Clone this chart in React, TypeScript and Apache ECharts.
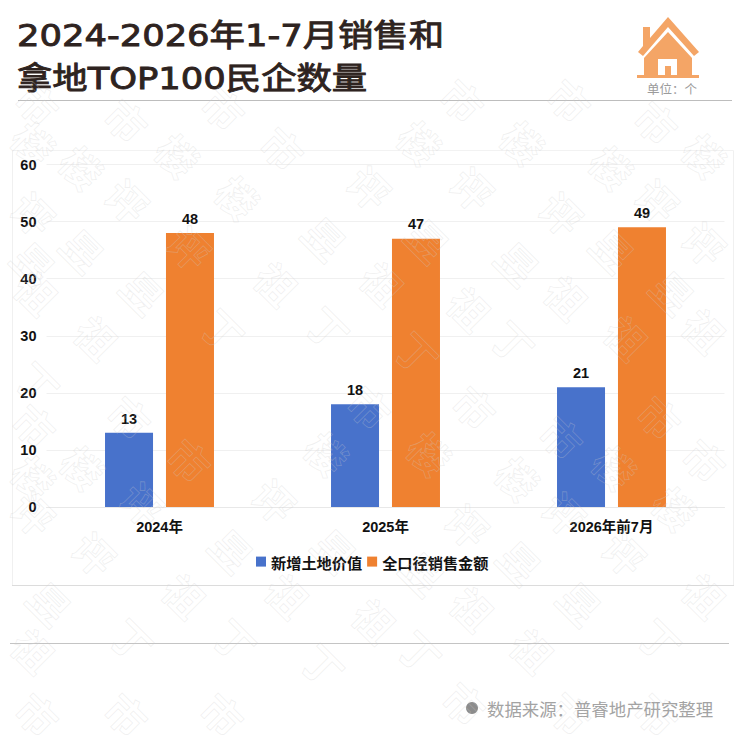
import React, { useEffect, useRef } from "react";
import * as echarts from "echarts";

const categories = ["2024年", "2025年", "2026年前7月"];
const newLandValue = [13, 18, 21];
const fullSales = [48, 47, 49];
const seriesNames = ["新增土地价值", "全口径销售金额"];
const yTicks = { min: 0, max: 60, interval: 10 };
const titleText = "2024-2026年1-7月销售和\n拿地TOP100民企数量";
const unitText = "单位：个";
const sourceText = "数据来源：普睿地产研究整理";

const watermarks: [string, number, number][] = [
  ["市", 38, 103], ["市", 127, 120], ["市", 224, 108], ["市", 283, 148], ["市", 463, 100], ["市", 570, 100], ["市", 657, 122],
  ["市", 35, 425], ["市", 130, 417], ["市", 190, 460], ["市", 370, 407], ["市", 475, 407], ["市", 562, 437], ["市", 660, 417], ["市", 705, 460],
  ["市", 38, 714], ["市", 127, 714], ["市", 223, 714], ["市", 465, 703], ["市", 570, 713], ["市", 657, 714],
  ["楼", 34, 143], ["楼", 82, 167], ["楼", 178, 155], ["楼", 238, 197], ["楼", 420, 142], ["楼", 523, 142], ["楼", 612, 167], ["楼", 705, 155],
  ["楼", 34, 477], ["楼", 83, 467], ["楼", 327, 453], ["楼", 430, 453], ["楼", 518, 478], ["楼", 615, 467], ["楼", 675, 508],
  ["评", 34, 213], ["评", 128, 200], ["评", 190, 247], ["评", 370, 187], ["评", 473, 188], ["评", 562, 213], ["评", 658, 200], ["评", 705, 243],
  ["评", 34, 513], ["评", 143, 503], ["评", 95, 553], ["评", 275, 500], ["评", 468, 525], ["评", 565, 513], ["评", 625, 553],
  ["昱", 34, 263], ["昱", 83, 250], ["昱", 143, 292], ["昱", 325, 238], ["昱", 428, 240], ["昱", 518, 263], ["昱", 613, 250], ["昱", 673, 292],
  ["昱", 50, 603], ["昱", 232, 550], ["昱", 335, 550], ["昱", 423, 573], ["昱", 520, 562], ["昱", 580, 603],
  ["祖", 37, 292], ["祖", 97, 337], ["祖", 277, 283], ["祖", 383, 283], ["祖", 470, 308], ["祖", 567, 297], ["祖", 627, 337], ["祖", 705, 330],
  ["祖", 34, 650], ["祖", 185, 595], ["祖", 288, 595], ["祖", 375, 620], ["祖", 473, 608], ["祖", 533, 650], ["祖", 705, 595],
  ["丁", 223, 330], ["丁", 328, 328], ["丁", 38, 383], ["丁", 417, 353], ["丁", 513, 342],
  ["丁", 132, 640], ["丁", 235, 640], ["丁", 323, 665], ["丁", 420, 652], ["丁", 660, 640],
];

const ROOF =
  "M668 17 L699 52 L694 56 L668 27 L643 56 L638 52 L643 46 L643 27 L650 27 L650 38 Z";
const BODY =
  "M668 32 L692 58 L692 75 L699 75 L699 78 L637 78 L637 75 L644 75 L644 58 Z";

echarts.graphic.registerShape("houseRoof", echarts.graphic.extendPath(ROOF, {}));
echarts.graphic.registerShape("houseBody", echarts.graphic.extendPath(BODY, {}));

const LATIN = '"Liberation Sans", "Noto Sans CJK SC", sans-serif';
const CJK = '"Noto Sans CJK SC", sans-serif';
const TITLE_FONT = '"DejaVu Sans", "Noto Sans CJK SC", sans-serif';

export default function App() {
  const ref = useRef<HTMLDivElement>(null);
  useEffect(() => {
    const chart = echarts.init(ref.current!, undefined, { renderer: "svg" });
    const labelStyle = { color: "#111", fontFamily: LATIN, fontWeight: "bold" as const, fontSize: 14.5 };
    chart.setOption({
      animation: false,
      backgroundColor: "#fff",
      grid: { left: 46.5, right: 15.5, top: 164.5, bottom: 242 },
      legend: {
        top: 549,
        left: 251,
        itemWidth: 10,
        itemHeight: 10,
        itemGap: 5,
        icon: "rect",
        textStyle: { fontFamily: CJK, fontWeight: "bold", fontSize: 15.2, color: "#111" },
        data: seriesNames,
      },
      xAxis: {
        type: "category",
        data: categories,
        axisTick: { show: false },
        axisLine: { lineStyle: { color: "#e8e8e8" } },
        axisLabel: { ...labelStyle, margin: 13 },
      },
      yAxis: {
        type: "value",
        ...yTicks,
        axisLabel: { ...labelStyle, margin: 10 },
        splitLine: { lineStyle: { color: "#f0f0f0" } },
        axisLine: { show: false },
        axisTick: { show: false },
      },
      series: [
        {
          name: seriesNames[0],
          type: "bar",
          data: newLandValue,
          barWidth: 48,
          barGap: "27%",
          itemStyle: { color: "#4872cb" },
          label: { show: true, position: "top", distance: 7, ...labelStyle },
        },
        {
          name: seriesNames[1],
          type: "bar",
          data: fullSales,
          barWidth: 48,
          barGap: "27%",
          itemStyle: { color: "#ef8130" },
          label: { show: true, position: "top", distance: 7, ...labelStyle },
        },
      ],
      graphic: [
        { type: "text", z: 1, x: 17, y: 14, scaleX: 1.14, style: { text: titleText, fontFamily: TITLE_FONT, fontWeight: "normal", fontSize: 31, lineHeight: 43, fill: "#2e2320", stroke: "#2e2320", lineWidth: 0.9 } },
        { type: "line", z: 1, shape: { x1: 12.5, y1: 150.5, x2: 733.5, y2: 150.5 }, style: { stroke: "#f2f2f2", lineWidth: 1 } },
        { type: "line", z: 1, shape: { x1: 12.5, y1: 150.5, x2: 12.5, y2: 585 }, style: { stroke: "#f0f0f0", lineWidth: 1 } },
        { type: "line", z: 1, shape: { x1: 733.5, y1: 150.5, x2: 733.5, y2: 585 }, style: { stroke: "#f0f0f0", lineWidth: 1 } },
        { type: "line", z: 1, shape: { x1: 12, y1: 585.5, x2: 734, y2: 585.5 }, style: { stroke: "#dcdcdc", lineWidth: 1 } },
        { type: "line", z: 1, shape: { x1: 18, y1: 100.5, x2: 732, y2: 100.5 }, style: { stroke: "#bdbdbd", lineWidth: 1.2 } },
        { type: "line", z: 1, shape: { x1: 10, y1: 643.5, x2: 729, y2: 643.5 }, style: { stroke: "#c4c4c4", lineWidth: 1.2 } },
        { type: "houseRoof", z: 1, x: 0, y: 0, style: { fill: "#f4a566" } },
        { type: "houseBody", z: 1, x: 0, y: 0, style: { fill: "#f4a566" } },
        { type: "rect", z: 1, shape: { x: 658, y: 59, width: 19, height: 16 }, style: { fill: "#fff" } },
        { type: "rect", z: 1, shape: { x: 665, y: 66, width: 6, height: 10 }, style: { fill: "#f4a566" } },
        { type: "text", z: 1, x: 647, y: 88, style: { text: unitText, fontFamily: CJK, fontSize: 12.5, fill: "#9b9b9b", verticalAlign: "middle" } },
        { type: "circle", z: 1, shape: { cx: 472, cy: 708, r: 6 }, style: { fill: "#8c8c8c" } },
        { type: "text", z: 1, x: 487, y: 708, style: { text: sourceText, fontFamily: CJK, fontSize: 17.4, fill: "#a3a3a3", verticalAlign: "middle" } },
        ...watermarks.map(([ch, x, y]) => ({
          type: "text",
          z: 100,
          silent: true,
          x,
          y,
          rotation: -Math.PI / 4,
          style: {
            text: ch,
            fontFamily: CJK,
            fontWeight: "bold",
            fontSize: 40,
            fill: "transparent",
            stroke: "rgba(205,205,205,0.34)",
            lineWidth: 0.7,
            align: "center",
            verticalAlign: "middle",
          },
        })),
      ],
    });
    return () => chart.dispose();
  }, []);
  return <div ref={ref} style={{ position: "absolute", left: 0, top: 0, width: 740, height: 749 }} />;
}
